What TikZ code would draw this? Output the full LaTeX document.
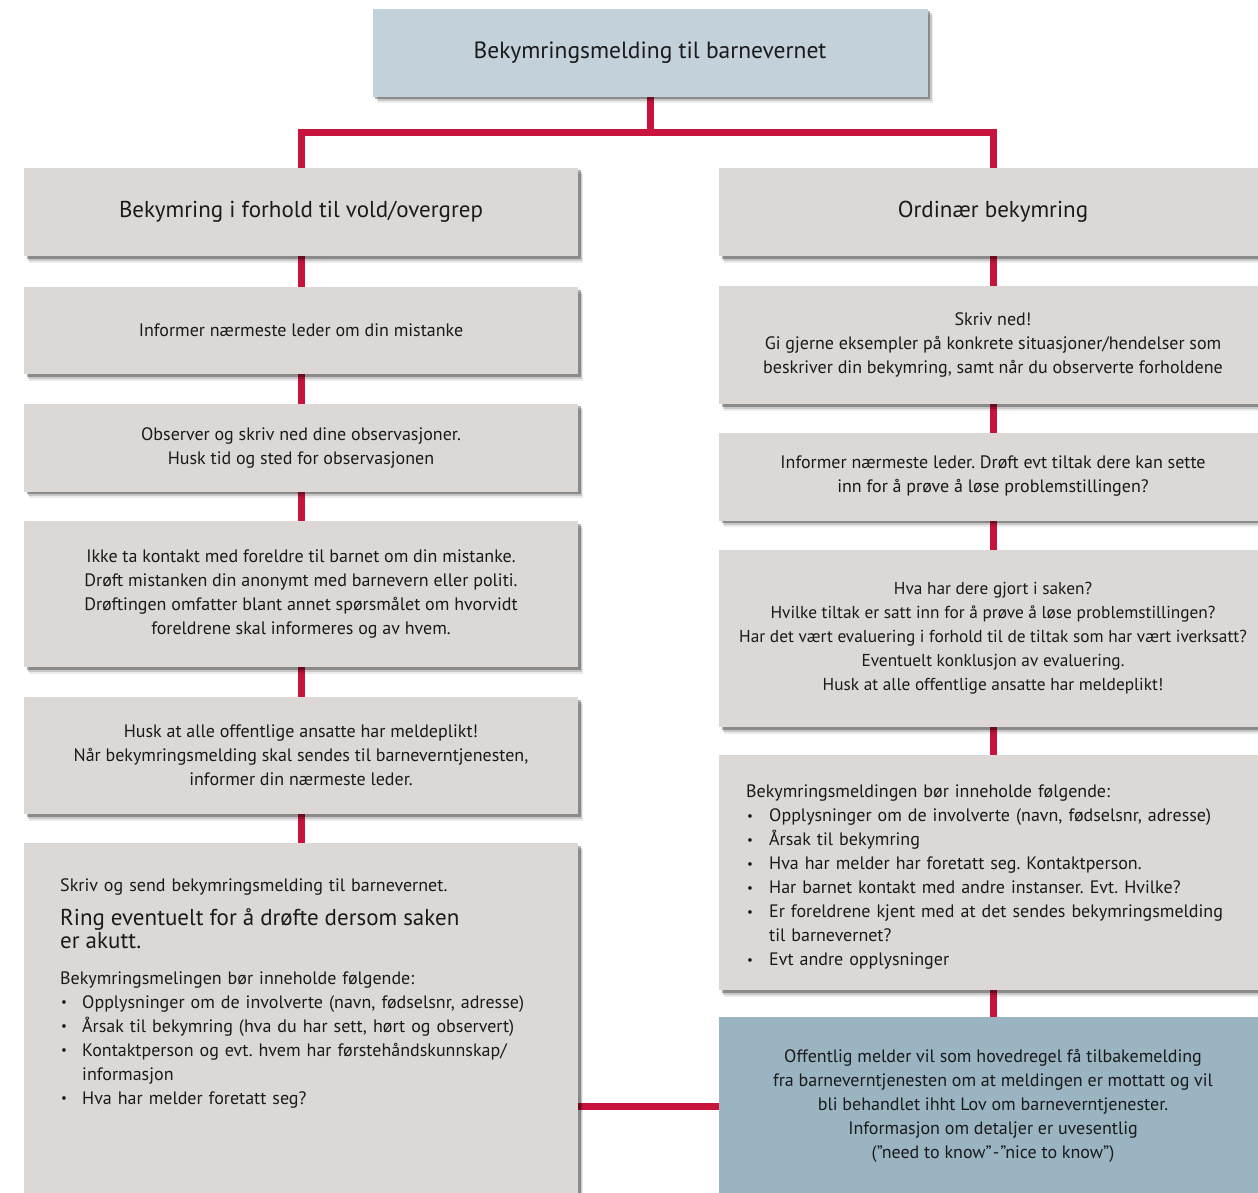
\documentclass[tikz,border=0pt]{standalone}
\usepackage{fontspec}
\setmainfont{PT Sans}
\usetikzlibrary{shadows}
\definecolor{boxgray}{HTML}{DCD8D5}
\definecolor{topblue}{HTML}{C3D1DB}
\definecolor{botblue}{HTML}{9BB4C2}
\definecolor{linered}{HTML}{C8143C}
\definecolor{txt}{HTML}{1A1A1A}
\pgfdeclarelayer{back}
\pgfdeclarelayer{bg}
\pgfsetlayers{back,bg,main}
\newcommand{\smallbul}{\raisebox{1.5pt}{\fontsize{13}{13}\selectfont•}}
\newcommand{\bulitem}[2][22pt]{\par\noindent\hangindent=#1\hangafter=1\makebox[#1][l]{\hspace{1pt}\smallbul}#2\par}
\frenchspacing
\begin{document}
\begin{tikzpicture}[x=1pt,y=-1pt,
  softshadow/.style={
    general shadow={fill=black, opacity=0.08, shadow xshift=5pt, shadow yshift=-6.5pt},
    general shadow={fill=black, opacity=0.15, shadow xshift=4pt, shadow yshift=-4.5pt},
    general shadow={fill=black, opacity=0.30, shadow xshift=2.5pt, shadow yshift=-2.5pt}},
  box/.style={fill=boxgray, draw=none, inner sep=0pt, align=center, text=txt,
    font=\fontsize{18}{24}\selectfont, softshadow},
  lbox/.style={box, minimum width=554pt},
  rbox/.style={box, minimum width=548pt},
  head/.style={font=\fontsize{23}{24}\selectfont},
  txtblock/.style={inner sep=0pt, text=txt, align=left, font=\fontsize{18}{24}\selectfont},
  conn/.style={draw=linered, line width=7pt},
]
\useasboundingbox (0,0) rectangle (1258,1193);
\begin{pgfonlayer}{back}
\fill[white] (0,0) rectangle (1258,1193);
\end{pgfonlayer}

% top
\node[box, minimum width=555pt, minimum height=88pt, fill=topblue, font=\fontsize{23.5}{24}\selectfont] (top) at (650,53) {Bekymringsmelding til barnevernet};

% left column
\node[lbox, minimum height=88pt, head] (L1) at (301,212) {Bekymring i forhold til vold/overgrep};
\node[lbox, minimum height=87pt] (L2) at (301,330.5) {Informer nærmeste leder om din mistanke};
\node[lbox, minimum height=88pt] (L3) at (301,447.5) {Observer og skriv ned dine observasjoner.\\Husk tid og sted for observasjonen};
\node[lbox, minimum height=146pt] (L4) at (301,594) {Ikke ta kontakt med foreldre til barnet om din mistanke.\\Drøft mistanken din anonymt med barnevern eller politi.\\Drøftingen omfatter blant annet spørsmålet om hvorvidt\\foreldrene skal informeres og av hvem.};
\node[lbox, minimum height=117pt] (L5) at (301,755.5) {Husk at alle offentlige ansatte har meldeplikt!\\Når bekymringsmelding skal sendes til barneverntjenesten,\\informer din nærmeste leder.};
\node[lbox, minimum height=357pt] (L6) at (301,1021.5) {};
\node[txtblock, text width=490pt, anchor=north west] (L6t) at (60,878) {%
Skriv og send bekymringsmelding til barnevernet.\par
\vspace{11.5pt}
{\fontsize{23}{23}\selectfont Ring eventuelt for å drøfte dersom saken\\er akutt.\par}
\vspace{11.5pt}
Bekymringsmelingen bør inneholde følgende:\par
\bulitem{Opplysninger om de involverte (navn, fødselsnr, adresse)}
\bulitem{Årsak til bekymring (hva du har sett, hørt og observert)}
\bulitem{Kontaktperson og evt. hvem har førstehåndskunnskap/\hfil\break informasjon}
\bulitem{Hva har melder foretatt seg?}};

% right column
\node[rbox, minimum height=88pt, head] (R1) at (993,212) {Ordinær bekymring};
\node[rbox, minimum height=118pt] (R2) at (993,345) {Skriv ned!\\Gi gjerne eksempler på konkrete situasjoner/hendelser som\\beskriver din bekymring, samt når du observerte forholdene};
\node[rbox, minimum height=88pt] (R3) at (993,476.5) {Informer nærmeste leder. Drøft evt tiltak dere kan sette\\inn for å prøve å løse problemstillingen?};
\node[rbox, minimum height=177pt, font=\fontsize{17.3}{24}\selectfont] (R4) at (993,638.5) {Hva har dere gjort i saken?\\Hvilke tiltak er satt inn for å prøve å løse problemstillingen?\\Har det vært evaluering i forhold til de tiltak som har vært iverksatt?\\Eventuelt konklusjon av evaluering.\\Husk at alle offentlige ansatte har meldeplikt!};
\node[rbox, minimum height=235pt] (R5) at (993,872.5) {};
\node[txtblock, text width=505pt, anchor=north west] (R5t) at (746,785) {%
Bekymringsmeldingen bør inneholde følgende:\par
\bulitem[23pt]{Opplysninger om de involverte (navn, fødselsnr, adresse)}
\bulitem[23pt]{Årsak til bekymring}
\bulitem[23pt]{Hva har melder har foretatt seg. Kontaktperson.}
\bulitem[23pt]{Har barnet kontakt med andre instanser. Evt. Hvilke?}
\bulitem[23pt]{Er foreldrene kjent med at det sendes bekymringsmelding\hfil\break til barnevernet?}
\bulitem[23pt]{Evt andre opplysninger}};
\node[rbox, minimum height=178pt, fill=botblue] (R6) at (993,1106) {Offentlig melder vil som hovedregel få tilbakemelding\\fra barneverntjenesten om at meldingen er mottatt og vil\\bli behandlet ihht Lov om barneverntjenester.\\Informasjon om detaljer er uvesentlig\\(”need to know”\kern1pt-\kern1pt”nice to know”)};

% connectors
\coordinate (hbar) at (650,133);
\begin{pgfonlayer}{bg}
\draw[conn] (top.center) -- (top.center |- hbar);
\draw[conn, line join=miter] (L1.center) -- (L1.center |- hbar) -- (R1.center |- hbar) -- (R1.center);
\draw[conn] (L1.center) -- (L2.center) -- (L3.center) -- (L4.center) -- (L5.center) -- (L6.center);
\draw[conn] (R1.center) -- (R2.center) -- (R3.center) -- (R4.center) -- (R5.center) -- (R6.center);
\draw[conn] (L6.center |- R6.center) -- (R6.center);
\end{pgfonlayer}
\end{tikzpicture}
\end{document}
